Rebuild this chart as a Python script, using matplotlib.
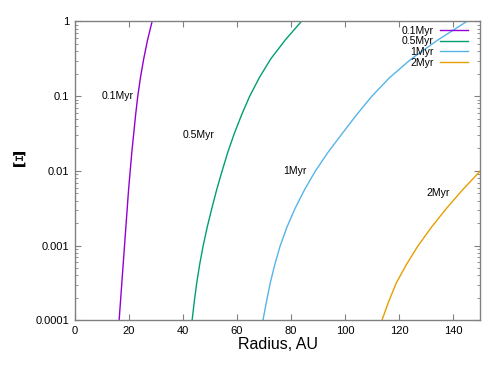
import numpy as np
import matplotlib as mpl
mpl.use('Agg')
import matplotlib.pyplot as plt
from matplotlib.ticker import LogLocator, NullFormatter

plt.rcParams['font.family'] = ['Liberation Sans', 'DejaVu Sans']

## values, one point every quarter decade of Xi
xi_grid = [1e-4, 1.78e-4, 3.16e-4, 5.62e-4, 1e-3, 1.78e-3, 3.16e-3, 5.62e-3,
           1e-2, 1.78e-2, 3.16e-2, 5.62e-2, 0.1, 0.178, 0.316, 0.562, 1.0]

r_01 = [16.4, 16.9, 17.4, 17.9, 18.4, 18.9, 19.4, 19.9,
        20.5, 21.1, 21.8, 22.5, 23.3, 24.3, 25.5, 26.9, 28.6]
xi_01 = xi_grid

r_05 = [43.4, 44.2, 45.1, 46.2, 47.5, 49.0, 50.7, 52.5,
        54.5, 56.6, 59.0, 61.7, 64.7, 68.3, 72.5, 77.8, 83.8]
xi_05 = xi_grid

r_1 = [69.6, 70.9, 72.3, 74.0, 76.0, 78.5, 81.5, 85.0,
       89.0, 93.7, 98.9, 104.2, 109.9, 116.5, 124.5, 134.2, 145.0]
xi_1 = xi_grid

r_2 = [113.6, 116.1, 118.9, 122.7, 127.0, 132.0, 137.5, 143.5, 150.0]
xi_2 = xi_grid[:9]

names = ['0.1Myr', '0.5Myr', '1Myr', '2Myr']
colors = ['#9400D3', '#009E73', '#56B4E9', '#E69F00']
label_pos = [(10, 0.1), (40, 0.03), (77, 0.01), (130, 0.005)]

yticks = [1e-4, 1e-3, 1e-2, 1e-1, 1]
ytick_labels = ['0.0001', '0.001', '0.01', '0.1', '1']
xticks = [0, 20, 40, 60, 80, 100, 120, 140]

fig = plt.figure(figsize=(4.91, 3.68), dpi=100)
ax = fig.add_axes([0.1523, 0.1291, 0.8258, 0.8125])

series = [(r_01, xi_01), (r_05, xi_05), (r_1, xi_1), (r_2, xi_2)]
for (r, xi), name, c in zip(series, names, colors):
    ax.plot(r, xi, color=c, lw=1.0, label=name)

for name, (x, y) in zip(names, label_pos):
    ax.text(x, y, name, fontsize=7.5, ha='left', va='center')

ax.set_yscale('log')
ax.set_xlim(0, 150)
ax.set_ylim(1e-4, 1)
ax.set_xticks(xticks)
ax.set_yticks(yticks)
ax.set_yticklabels(ytick_labels)
ax.yaxis.set_minor_locator(LogLocator(base=10, subs=np.arange(2, 10), numticks=20))
ax.yaxis.set_minor_formatter(NullFormatter())

ax.tick_params(which='major', direction='in', length=4, width=0.8, color='#808080',
               top=True, right=True, labelsize=8, pad=4)
ax.tick_params(which='minor', direction='in', length=2, width=0.6, color='#808080',
               right=True)
for s in ax.spines.values():
    s.set_color('#808080')
    s.set_linewidth(1.0)

ax.set_xlabel('Radius, AU', fontsize=11.5, labelpad=1)
ax.set_ylabel('Ξ', rotation=0, fontsize=15, fontfamily='DejaVu Serif', fontweight='bold')
ax.yaxis.set_label_coords(-0.138, 0.50)

leg = ax.legend(loc='upper right', bbox_to_anchor=(0.970, 0.985), frameon=False,
                markerfirst=False, fontsize=7.5, handlelength=2.7, handletextpad=0.6,
                labelspacing=0.05, borderpad=0, borderaxespad=0)
for t in leg.get_texts():
    t.set_ha('right')

fig.savefig('out.png', dpi=100)
